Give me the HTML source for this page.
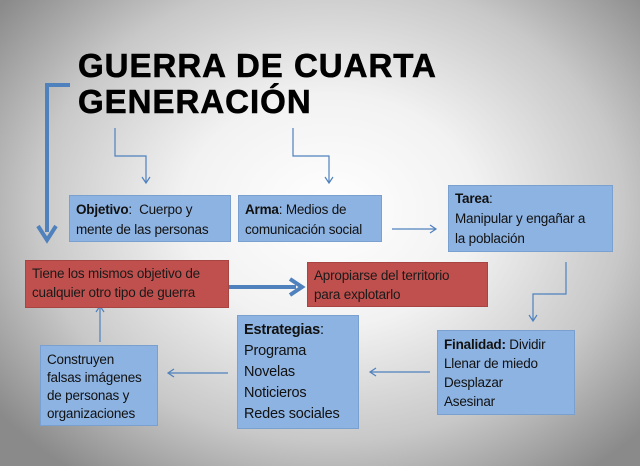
<!DOCTYPE html>
<html><head><meta charset="utf-8"><style>
body{margin:0;width:640px;height:466px;overflow:hidden;background:radial-gradient(ellipse 420px 330px at 330px 210px,#ffffff 0%,#f2f2f2 35%,#c8c8c8 70%,#8a8a8a 100%);font-family:"Liberation Sans",sans-serif;position:relative}
.b{position:absolute;background:#8db3e2;border:1px solid #7aa0d0;box-sizing:border-box;font-size:13.5px;line-height:20px;color:#111;padding:4px 6px;white-space:nowrap;letter-spacing:-0.2px}
.r{position:absolute;background:#c0504d;border:1px solid #a84542;box-sizing:border-box;font-size:13.5px;line-height:19px;color:#1a1a1a;padding:3px 6px;white-space:nowrap;letter-spacing:-0.2px}
.t{position:absolute;left:78px;font-weight:bold;font-size:33px;line-height:36px;letter-spacing:1px;color:#000;-webkit-text-stroke:0.6px #000}
</style></head><body>
<div class="t" style="top:48px">GUERRA DE CUARTA<br>GENERACIÓN</div>
<svg width="640" height="466" style="position:absolute;left:0;top:0">
<g fill="none" stroke="#4f81bd">
<path d="M70 85H47V232" stroke-width="4"/>
<path d="M38 226L47 240L56 226" stroke-width="4"/>
<path d="M228 287H296" stroke-width="4"/>
<path d="M290 279L302 287L290 295" stroke-width="4"/>
<g stroke-width="1.2">
<path d="M115 128V156H146V183M142 177L146 183L150 177"/>
<path d="M293 128V156H329V183M325 177L329 183L333 177"/>
<path d="M392 229H436M430 225L436 229L430 233"/>
<path d="M566 262V294H533V321M529 315L533 321L537 315"/>
<path d="M430 372H370M376 368L370 372L376 376"/>
<path d="M228 373H168M174 369L168 373L174 377"/>
<path d="M100 342V306M96 312L100 306L104 312"/>
</g></g></svg>
<div class="b" style="left:69px;top:195px;width:162px;height:47px"><b>Objetivo</b>:&nbsp; Cuerpo y<br>mente de las personas</div>
<div class="b" style="left:238px;top:195px;width:144px;height:47px"><b>Arma</b>: Medios de<br>comunicación social</div>
<div class="b" style="left:448px;top:185px;width:165px;height:67px;padding-top:3px"><b>Tarea</b>:<br>Manipular y engañar a<br>la población</div>
<div class="r" style="left:25px;top:260px;width:204px;height:48px">Tiene los mismos objetivo de<br>cualquier otro tipo de guerra</div>
<div class="r" style="left:307px;top:262px;width:181px;height:45px">Apropiarse del territorio<br>para explotarlo</div>
<div class="b" style="left:237px;top:315px;width:122px;height:114px;font-size:14.5px;line-height:21px"><b>Estrategias</b>:<br>Programa<br>Novelas<br>Noticieros<br>Redes sociales</div>
<div class="b" style="left:437px;top:330px;width:138px;height:85px;font-size:13.5px;line-height:19px"><b>Finalidad:</b> Dividir<br>Llenar de miedo<br>Desplazar<br>Asesinar</div>
<div class="b" style="left:40px;top:345px;width:118px;height:81px;line-height:18px;padding-top:5px">Construyen<br>falsas imágenes<br>de personas y<br>organizaciones</div>
</body></html>
